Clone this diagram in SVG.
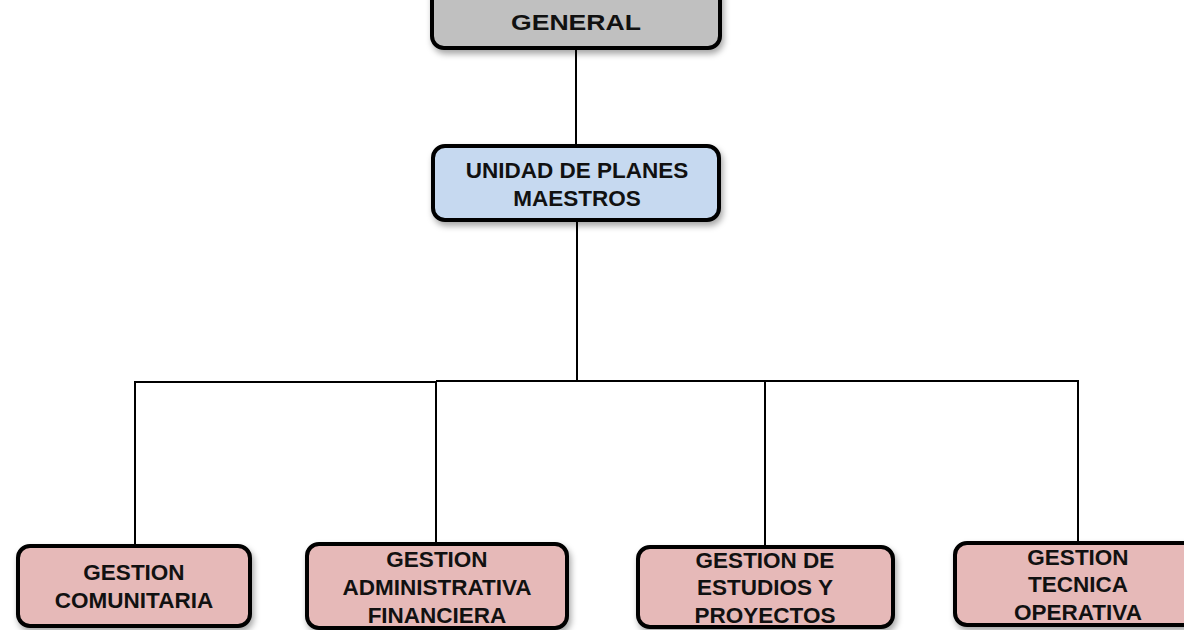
<svg xmlns="http://www.w3.org/2000/svg" width="1184" height="630" viewBox="0 0 1184 630">
<defs>
<filter id="sh" x="-10%" y="-20%" width="125%" height="150%">
<feDropShadow dx="2" dy="4" stdDeviation="3" flood-color="#000" flood-opacity="0.35"/>
</filter>
</defs>
<style>
.box{stroke:#000;stroke-width:4;filter:url(#sh)}
.gray{fill:#c0c0c0}
.blue{fill:#c6d9f0}
.pink{fill:#e6b9b8}
.t{font-family:"Liberation Sans",Arial,sans-serif;font-weight:bold;font-size:22.5px;fill:#111;text-anchor:middle}
.ln{stroke:#000;stroke-width:2;fill:none}
</style>
<rect width="1184" height="630" fill="#fff"/>
<g id="connectors">
<line class="ln" x1="576" y1="48" x2="576" y2="146"/>
<line class="ln" x1="577" y1="220" x2="577" y2="381"/>
<polyline class="ln" points="135,546 135,382 436,382 436,545"/>
<polyline class="ln" points="436,381 765,381 765,547"/>
<polyline class="ln" points="765,381 1078,381 1078,543"/>
</g>
<g id="node-general">
<rect class="box gray" x="432" y="-20" width="288" height="68" rx="12"/>
<text class="t" x="576" y="30" font-size="24" textLength="130" lengthAdjust="spacingAndGlyphs">GENERAL</text>
</g>
<g id="node-unidad">
<rect class="box blue" x="433" y="146" width="286" height="74" rx="12"/>
<text class="t" x="577" y="178">UNIDAD DE PLANES</text>
<text class="t" x="577" y="206">MAESTROS</text>
</g>
<g id="node-comunitaria">
<rect class="box pink" x="18" y="546" width="232" height="80" rx="12"/>
<text class="t" x="134" y="580">GESTION</text>
<text class="t" x="134" y="608">COMUNITARIA</text>
</g>
<g id="node-administrativa">
<rect class="box pink" x="307" y="544" width="260" height="84" rx="12"/>
<text class="t" x="437" y="567">GESTION</text>
<text class="t" x="437" y="595">ADMINISTRATIVA</text>
<text class="t" x="437" y="623">FINANCIERA</text>
</g>
<g id="node-estudios">
<rect class="box pink" x="638" y="547" width="255" height="80" rx="12"/>
<text class="t" x="765" y="568">GESTION DE</text>
<text class="t" x="765" y="595">ESTUDIOS Y</text>
<text class="t" x="765" y="623">PROYECTOS</text>
</g>
<g id="node-tecnica">
<rect class="box pink" x="955" y="543" width="246" height="82" rx="12"/>
<text class="t" x="1078" y="565">GESTION</text>
<text class="t" x="1078" y="592">TECNICA</text>
<text class="t" x="1078" y="620">OPERATIVA</text>
</g>
</svg>
